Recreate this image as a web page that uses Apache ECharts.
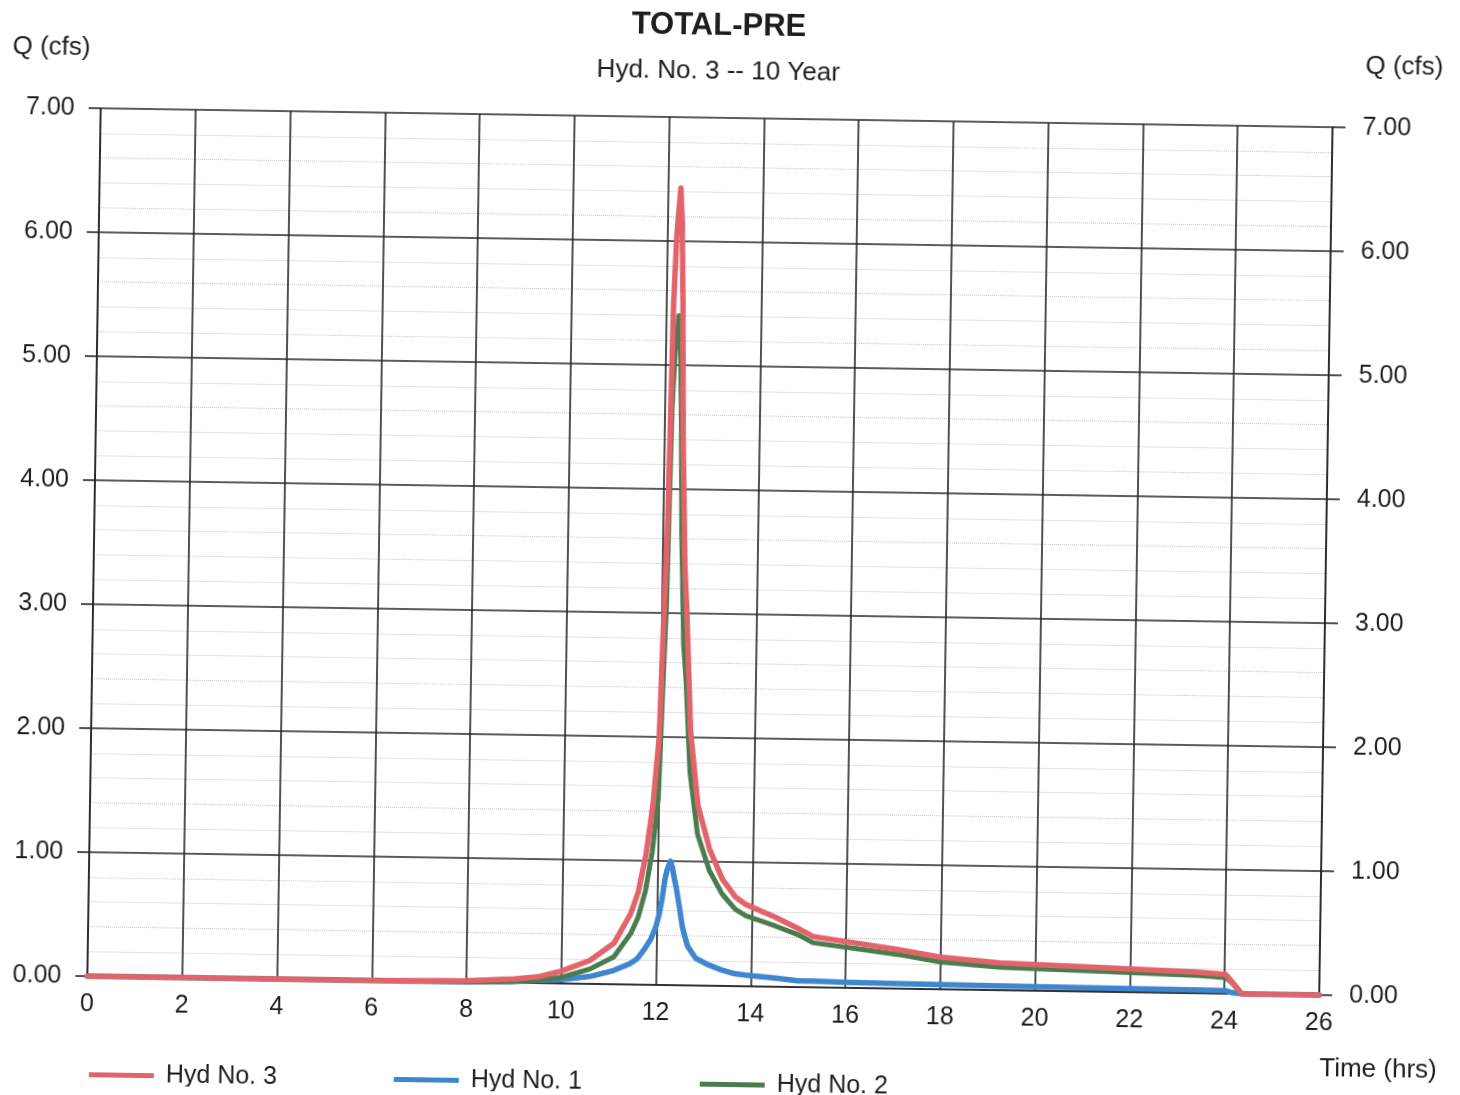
<!DOCTYPE html>
<html>
<head>
<meta charset="utf-8">
<title>TOTAL-PRE Hydrograph</title>
<script src="https://cdn.jsdelivr.net/npm/echarts@6/dist/echarts.min.js"></script>
<style>
  html, body { margin: 0; padding: 0; background: #ffffff; overflow: hidden; }
  #chart {
    width: 1460px; height: 1095px; background: #ffffff;
    transform: rotate(0.88deg); transform-origin: 50% 50%;
  }
</style>
</head>
<body>
<div id="chart"></div>
<script>
// Time (hrs)
const times = [0, 2, 4, 6, 8, 8.5, 9, 9.5, 10, 10.6, 11.1, 11.45, 11.6, 11.75, 11.88, 11.99,
  12.05, 12.1, 12.155, 12.2, 12.27, 12.31, 12.35, 12.4, 12.475, 12.54, 12.65, 12.83, 13.09,
  13.37, 13.65, 13.87, 14.5, 15.0, 15.3, 16.06, 17.11, 17.97, 19.24, 21.35, 23.46, 24.02,
  24.15, 24.37, 26];

// Hyd No. 3 (total), Q in cfs
const hyd3 = [0, 0, 0, 0, 0.01, 0.02, 0.03, 0.05, 0.10, 0.19, 0.33, 0.575, 0.75, 1.05, 1.45, 2.00,
  3.00, 3.75, 5.52, 6.05, 6.43, 6.15, 5.52, 4.40, 3.40, 2.95, 2.05, 1.45, 1.10,
  0.86, 0.72, 0.66, 0.56, 0.47, 0.41, 0.37, 0.315, 0.26, 0.22, 0.195, 0.17, 0.155,
  0.10, 0, 0];

// Hyd No. 1, Q in cfs
const hyd1 = [0, 0, 0, 0, 0, 0.005, 0.01, 0.02, 0.03, 0.06, 0.11, 0.17, 0.21, 0.29, 0.37, 0.48,
  0.58, 0.69, 0.85, 0.93, 1.00, 0.95, 0.87, 0.78, 0.62, 0.47, 0.32, 0.22, 0.17,
  0.13, 0.10, 0.09, 0.07, 0.05, 0.05, 0.045, 0.04, 0.038, 0.035, 0.03, 0.027, 0.025,
  0.01, 0, 0];

// Hyd No. 2, Q in cfs
const hyd2 = [0, 0, 0, 0, 0, 0.005, 0.01, 0.02, 0.05, 0.12, 0.22, 0.41, 0.54, 0.76, 1.07, 1.50,
  2.40, 3.05, 4.65, 5.10, 5.40, 5.20, 4.65, 3.65, 2.75, 2.45, 1.72, 1.22, 0.93,
  0.74, 0.62, 0.57, 0.49, 0.42, 0.36, 0.325, 0.275, 0.222, 0.185, 0.165, 0.143, 0.13,
  0.09, 0, 0];

const seriesNames = ['Hyd No. 3', 'Hyd No. 1', 'Hyd No. 2'];
const seriesColors = ['#e2646a', '#3f86cf', '#4b7c4d'];

const FONT = '"Liberation Sans", Arial, Helvetica, sans-serif';
const INK = '#1e1e1e';
const GRIDLINE = '#262626';

const pairs = arr => times.map((t, i) => [t, arr[i]]);

const yAxisBase = {
  type: 'value', min: 0, max: 7, interval: 1,
  axisLine: { show: true, lineStyle: { color: GRIDLINE, width: 1.6 } },
  axisTick: { show: true, inside: false, length: 12, lineStyle: { color: GRIDLINE, width: 1.6 } },
  axisLabel: {
    color: INK, fontSize: 25, fontFamily: FONT,
    formatter: v => v.toFixed(2), showMinLabel: true, showMaxLabel: true
  }
};

const chart = echarts.init(document.getElementById('chart'), null, { renderer: 'canvas' });

const makeLegend = (name, left) => ({
  data: [name], left: left, top: 1067, orient: 'horizontal',
  icon: 'rect', itemWidth: 65, itemHeight: 5, itemGap: 0,
  textStyle: { color: INK, fontSize: 25, fontFamily: FONT, padding: [0, 0, 0, 7] },
  selectedMode: false
});

chart.setOption({
  backgroundColor: '#ffffff',
  animation: false,
  grid: { left: 94, top: 118, width: 1232, height: 868, outerBoundsMode: 'none', containLabel: false },
  legend: [
    makeLegend(seriesNames[0], 92),
    makeLegend(seriesNames[1], 397),
    makeLegend(seriesNames[2], 703)
  ],
  graphic: [
    { type: 'text', x: 711, y: 26, style: { text: 'TOTAL-PRE', font: 'bold 31px ' + FONT, fill: INK, textAlign: 'center', textVerticalAlign: 'middle' } },
    { type: 'text', x: 711, y: 72, style: { text: 'Hyd. No. 3 -- 10 Year', font: '26px ' + FONT, fill: INK, textAlign: 'center', textVerticalAlign: 'middle' } },
    { type: 'text', x: 44, y: 58, style: { text: 'Q (cfs)', font: '26px ' + FONT, fill: INK, textAlign: 'center', textVerticalAlign: 'middle' } },
    { type: 'text', x: 1397, y: 57, style: { text: 'Q (cfs)', font: '26px ' + FONT, fill: INK, textAlign: 'center', textVerticalAlign: 'middle' } },
    { type: 'text', x: 1386, y: 1060, style: { text: 'Time (hrs)', font: '26px ' + FONT, fill: INK, textAlign: 'center', textVerticalAlign: 'middle' } }
  ],
  xAxis: {
    type: 'value', min: 0, max: 26, interval: 2,
    axisLine: { show: true, onZero: false, lineStyle: { color: GRIDLINE, width: 1.6 } },
    axisTick: { show: false },
    axisLabel: { color: INK, fontSize: 25, fontFamily: FONT, margin: 16, showMinLabel: true, showMaxLabel: true },
    splitLine: { show: true, lineStyle: { color: GRIDLINE, width: 1.6 } }
  },
  yAxis: [
    Object.assign({}, yAxisBase, {
      position: 'left',
      axisLabel: Object.assign({}, yAxisBase.axisLabel, { margin: 26 }),
      splitLine: { show: true, lineStyle: { color: GRIDLINE, width: 1.6 } },
      minorTick: { show: false, splitNumber: 5 },
      minorSplitLine: { show: true, lineStyle: { color: '#c4c4c4', width: 1, type: 'dotted' } }
    }),
    Object.assign({}, yAxisBase, {
      position: 'right',
      axisTick: { show: true, inside: false, length: 13, lineStyle: { color: GRIDLINE, width: 1.6 } },
      axisLabel: Object.assign({}, yAxisBase.axisLabel, { margin: 30 }),
      splitLine: { show: false }
    })
  ],
  // drawn blue, green, then red on top
  series: [
    {
      name: seriesNames[1], type: 'line', data: pairs(hyd1), yAxisIndex: 0,
      showSymbol: false, symbol: 'none', color: seriesColors[1],
      lineStyle: { color: seriesColors[1], width: 5.5, cap: 'round', join: 'round' }
    },
    {
      name: seriesNames[2], type: 'line', data: pairs(hyd2), yAxisIndex: 0,
      showSymbol: false, symbol: 'none', color: seriesColors[2],
      lineStyle: { color: seriesColors[2], width: 5, cap: 'round', join: 'round' }
    },
    {
      name: seriesNames[0], type: 'line', data: pairs(hyd3), yAxisIndex: 0,
      showSymbol: false, symbol: 'none', color: seriesColors[0],
      lineStyle: { color: seriesColors[0], width: 5.5, cap: 'round', join: 'round' }
    }
  ]
});
</script>
</body>
</html>
